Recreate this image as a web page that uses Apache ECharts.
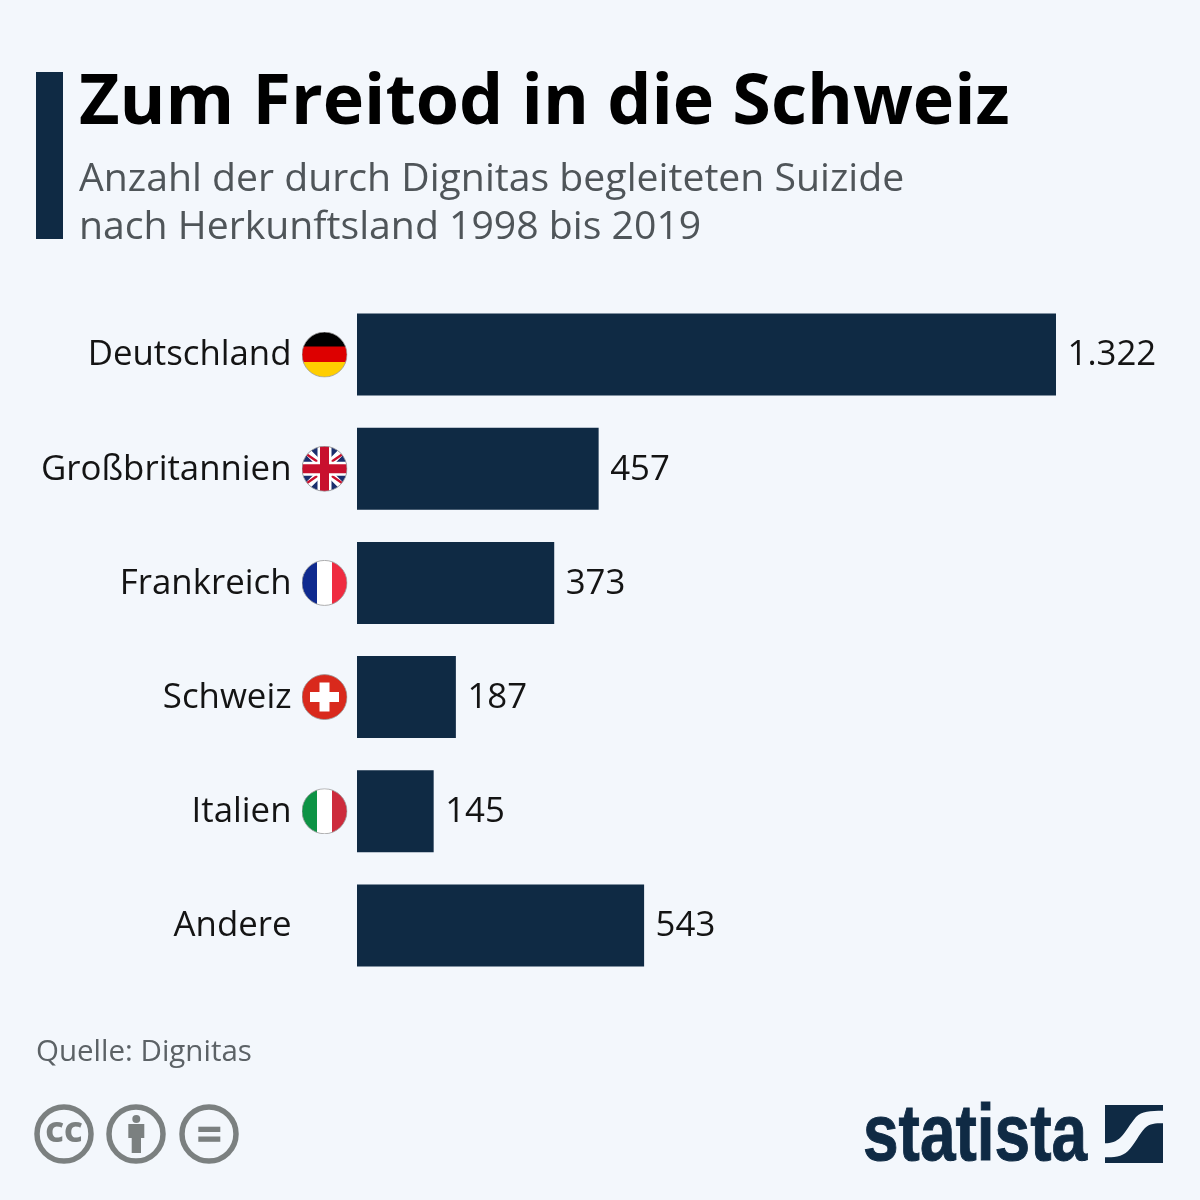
<!DOCTYPE html>
<html lang="de">
<head>
<meta charset="UTF-8">
<title>Zum Freitod in die Schweiz</title>
<script src="https://cdn.jsdelivr.net/npm/echarts@6/dist/echarts.min.js"></script>
<style>
  html, body { margin: 0; padding: 0; background: #f3f7fc; }
</style>
</head>
<body>
<div id="main" style="width:1200px;height:1200px;"></div>
<script>
var countries = ['Deutschland', 'Großbritannien', 'Frankreich', 'Schweiz', 'Italien', 'Andere'];
var flagKeys = ['de', 'uk', 'fr', 'ch', 'it', 'none'];
var suizide = [1322, 457, 373, 187, 145, 543];

var navy = '#0f2a44';
var grey = '#7b8080';
var textColor = '#141414';

// flags as small svgs, clipped to a circle
function flag(inner) {
    var svg = '<svg xmlns="http://www.w3.org/2000/svg" width="138" height="138" viewBox="0 0 46 46">' +
        '<defs><clipPath id="c"><circle cx="23" cy="23" r="22.5"/></clipPath></defs>' +
        '<g clip-path="url(#c)">' + inner + '</g>' +
        '<circle cx="23" cy="23" r="22.5" fill="none" stroke="#9a9a9a" stroke-width="0.8"/></svg>';
    return 'data:image/svg+xml;charset=utf-8,' + encodeURIComponent(svg);
}
var flags = {
    de: flag('<rect width="46" height="15.5" fill="#000"/><rect y="15" width="46" height="16" fill="#dd0000"/><rect y="30.5" width="46" height="15.5" fill="#ffce00"/>'),
    uk: flag('<rect width="46" height="46" fill="#1b2f6e"/>' +
        '<path d="M0 0L46 46M46 0L0 46" stroke="#fff" stroke-width="7"/>' +
        '<path d="M0 5L16 16M46 5L30 16M0 41L16 30M46 41L30 30" stroke="#c8102e" stroke-width="2.4"/>' +
        '<rect x="16" width="14" height="46" fill="#fff"/><rect y="16" width="46" height="14" fill="#fff"/>' +
        '<rect x="18.5" width="9" height="46" fill="#c8102e"/><rect y="18.5" width="46" height="9" fill="#c8102e"/>'),
    fr: flag('<rect width="15.5" height="46" fill="#0f2a8f"/><rect x="15.5" width="15" height="46" fill="#fff"/><rect x="30.5" width="15.5" height="46" fill="#ef2b40"/>'),
    ch: flag('<rect width="46" height="46" fill="#d9291c"/><rect x="18" y="8.5" width="10" height="29" fill="#fff"/><rect x="8.5" y="18" width="29" height="10" fill="#fff"/>'),
    it: flag('<rect width="15.5" height="46" fill="#0d9345"/><rect x="15.5" width="15" height="46" fill="#fff"/><rect x="30.5" width="15.5" height="46" fill="#cd2b3c"/>')
};

var richStyles = {
    name: { fontFamily: 'Open Sans', fontSize: 34.8, color: textColor, padding: [2, 10, 0, 0] },
    none: { width: 46, height: 46 }
};
['de', 'uk', 'fr', 'ch', 'it'].forEach(function (k) {
    richStyles[k] = { width: 46, height: 46, backgroundColor: { image: flags[k] } };
});

// the two halves of the statista mark
echarts.graphic.registerShape('logoTop', echarts.graphic.extendPath(
    'M1105 1105H1163V1110.7C1150 1110.7 1142 1111 1136 1117C1130 1124 1126 1132 1121 1137C1116 1142 1111 1143.3 1105 1143.3Z', {}
));
echarts.graphic.registerShape('logoBottom', echarts.graphic.extendPath(
    'M1163 1123.3C1155 1123.3 1150 1123.5 1145 1128C1139 1134 1135 1144 1128 1151C1122 1157 1113 1157.3 1105 1157.3V1163H1163Z', {}
));

var myChart = echarts.init(document.getElementById('main'));

var option = {
    animation: false,
    backgroundColor: '#f3f7fc',
    title: {
        text: 'Zum Freitod in die Schweiz',
        subtext: 'Anzahl der durch Dignitas begleiteten Suizide\nnach Herkunftsland 1998 bis 2019',
        left: 74,
        top: 56,
        itemGap: 9,
        textStyle: { fontFamily: 'Open Sans', fontWeight: 700, fontSize: 70, color: '#000', lineHeight: 86 },
        subtextStyle: { fontFamily: 'Open Sans', fontSize: 39.2, color: '#4f5559', lineHeight: 48 }
    },
    grid: { left: 357, top: 297.5, width: 699, height: 685, containLabel: false },
    xAxis: { type: 'value', min: 0, max: 1322, show: false },
    yAxis: {
        type: 'category',
        data: countries,
        inverse: true,
        axisLine: { show: false },
        axisTick: { show: false },
        axisLabel: {
            margin: 9.5,
            align: 'right',
            formatter: function (value, i) {
                return '{name|' + value + '}{' + flagKeys[i] + '|}';
            },
            rich: richStyles
        }
    },
    series: [{
        type: 'bar',
        data: suizide,
        barWidth: 82,
        itemStyle: { color: navy },
        label: {
            show: true,
            position: 'right',
            distance: 11.5,
            offset: [0, 1],
            fontFamily: 'Open Sans',
            fontSize: 34.8,
            color: textColor,
            formatter: function (p) {
                return String(p.value).replace(/\B(?=(\d{3})+$)/g, '.');
            }
        }
    }],
    graphic: [
        // balken neben dem titel
        { type: 'rect', shape: { x: 36, y: 72, width: 27, height: 167 }, style: { fill: navy } },
        // quelle
        { type: 'text', x: 36, y: 1038, style: { text: 'Quelle: Dignitas', fontFamily: 'Open Sans', fontSize: 29.5, fill: '#5c6266' } },
        // cc icons
        { type: 'circle', shape: { cx: 64, cy: 1134, r: 27 }, style: { fill: 'none', stroke: grey, lineWidth: 5.5 } },
        { type: 'text', x: 64, y: 1134, style: { text: 'CC', fontFamily: 'Open Sans', fontWeight: 800, fontSize: 29, fill: grey, align: 'center', verticalAlign: 'middle' } },
        { type: 'circle', shape: { cx: 136, cy: 1134, r: 27 }, style: { fill: 'none', stroke: grey, lineWidth: 5.5 } },
        { type: 'circle', shape: { cx: 136.3, cy: 1119, r: 4 }, style: { fill: grey } },
        { type: 'rect', shape: { x: 128.3, y: 1124, width: 16, height: 14 }, style: { fill: grey } },
        { type: 'rect', shape: { x: 131.7, y: 1137, width: 9.3, height: 16 }, style: { fill: grey } },
        { type: 'circle', shape: { cx: 209, cy: 1134, r: 27 }, style: { fill: 'none', stroke: grey, lineWidth: 5.5 } },
        { type: 'rect', shape: { x: 198.3, y: 1126.7, width: 22, height: 5.3 }, style: { fill: grey } },
        { type: 'rect', shape: { x: 198.3, y: 1136.5, width: 22, height: 5.3 }, style: { fill: grey } },
        // statista logo
        { type: 'text', x: 863, y: 1098, scaleX: 0.8, style: { text: 'statista', fontFamily: 'Liberation Sans', fontWeight: 700, fontSize: 80, fill: navy, stroke: navy, lineWidth: 1 } },
        { type: 'logoTop', style: { fill: navy } },
        { type: 'logoBottom', style: { fill: navy } }
    ]
};
myChart.setOption(option);
</script>
</body>
</html>
